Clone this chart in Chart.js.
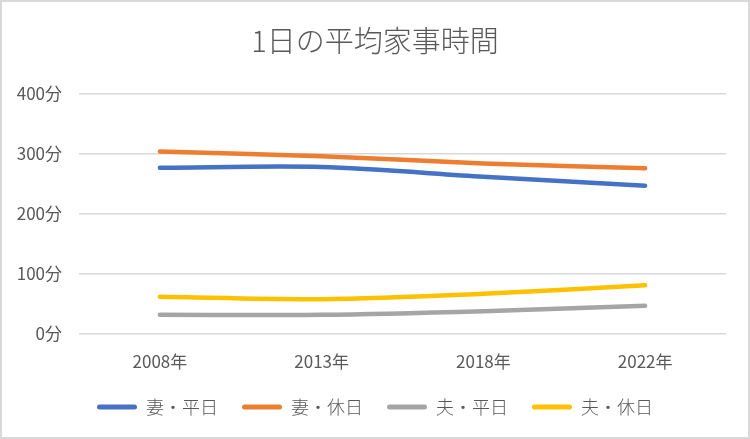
<!DOCTYPE html>
<html lang="ja">
<head>
  <meta charset="UTF-8" />
  <title>1日の平均家事時間</title>
  <script src="https://cdn.jsdelivr.net/npm/chart.js"></script>
  <style>
    body {
      margin: 0;
      background: #ffffff;
    }
    .frame {
      width: 750px;
      height: 439px;
      box-sizing: border-box;
      border: 2px solid #d9d9d9;
      background: #ffffff;
    }
    canvas {
      display: block;
    }
  </style>
</head>
<body>
  <div class="frame">
    <canvas id="chores" width="746" height="435"></canvas>
  </div>

  <script>
    const years = ['2008年', '2013年', '2018年', '2022年'];
    const wifeWeekday = [277, 278, 262, 247];
    const wifeHoliday = [304, 296, 284, 276];
    const husbandWeekday = [32, 32, 38, 47];
    const husbandHoliday = [62, 58, 67, 81];

    const FONT = '"Noto Sans CJK JP", "Noto Sans", sans-serif';
    const TEXT = '#595959';

    function series(label, data, color) {
      return {
        label: label,
        data: data,
        borderColor: color,
        backgroundColor: color,
        borderWidth: 4.5,
        borderCapStyle: 'round',
        borderJoinStyle: 'round',
        pointRadius: 0,
        pointHoverRadius: 0,
        tension: 0.3,
        fill: false
      };
    }

    new Chart(document.getElementById('chores').getContext('2d'), {
      type: 'line',
      data: {
        labels: years,
        datasets: [
          series('妻・平日', wifeWeekday, '#4472c4'),
          series('妻・休日', wifeHoliday, '#ed7d31'),
          series('夫・平日', husbandWeekday, '#a5a5a5'),
          series('夫・休日', husbandHoliday, '#ffc000')
        ]
      },
      options: {
        responsive: false,
        animation: false,
        layout: {
          padding: { left: 0, right: 0, top: 0, bottom: 11 }
        },
        plugins: {
          title: {
            display: true,
            text: '1日の平均家事時間',
            color: TEXT,
            font: { family: FONT, size: 29, weight: 300 },
            padding: { top: 22, bottom: 35 }
          },
          legend: {
            position: 'bottom',
            labels: {
              color: TEXT,
              font: { family: FONT, size: 18, weight: 300 },
              boxWidth: 40,
              boxHeight: 5,
              padding: 24,
              generateLabels: chart => chart.data.datasets.map((ds, i) => ({
                text: ds.label,
                fillStyle: ds.borderColor,
                strokeStyle: ds.borderColor,
                lineWidth: 0,
                borderRadius: 2.5,
                fontColor: TEXT,
                datasetIndex: i
              }))
            }
          },
          tooltip: { enabled: false }
        },
        scales: {
          x: {
            offset: true,
            afterFit: scale => { scale.height = 40; },
            grid: { display: false, drawTicks: false },
            border: { display: false },
            ticks: {
              color: TEXT,
              font: { family: FONT, size: 17 },
              padding: 17,
              maxRotation: 0
            }
          },
          y: {
            min: 0,
            max: 400,
            afterFit: scale => { scale.width = 77; },
            grid: { color: '#d9d9d9', lineWidth: 1.5, drawTicks: false },
            border: { display: false },
            ticks: {
              stepSize: 100,
              color: TEXT,
              font: { family: FONT, size: 17 },
              padding: 17,
              callback: v => v + '分'
            }
          },
          // empty right-hand gutter so the legend centres on the full width
          gutter: {
            type: 'linear',
            position: 'right',
            afterFit: scale => { scale.width = 22; },
            grid: { display: false, drawTicks: false },
            border: { display: false },
            ticks: { display: false }
          }
        }
      }
    });
  </script>
</body>
</html>
